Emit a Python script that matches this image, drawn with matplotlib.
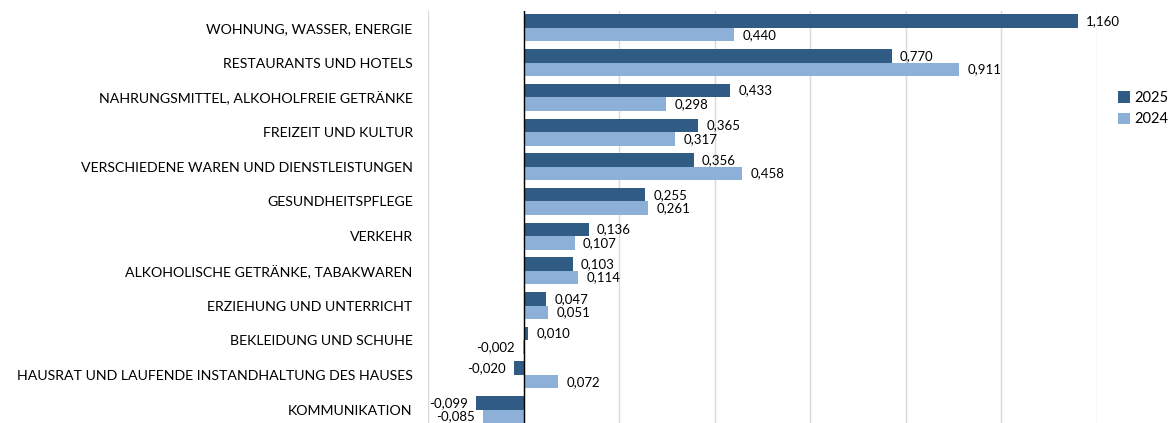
import matplotlib
matplotlib.use('Agg')
import matplotlib.pyplot as plt
import numpy as np

# categories top to bottom
categories = [
    'WOHNUNG, WASSER, ENERGIE',
    'RESTAURANTS UND HOTELS',
    'NAHRUNGSMITTEL, ALKOHOLFREIE GETRÄNKE',
    'FREIZEIT UND KULTUR',
    'VERSCHIEDENE WAREN UND DIENSTLEISTUNGEN',
    'GESUNDHEITSPFLEGE',
    'VERKEHR',
    'ALKOHOLISCHE GETRÄNKE, TABAKWAREN',
    'ERZIEHUNG UND UNTERRICHT',
    'BEKLEIDUNG UND SCHUHE',
    'HAUSRAT UND LAUFENDE INSTANDHALTUNG DES HAUSES',
    'KOMMUNIKATION',
]
values_2025 = [1.160, 0.770, 0.433, 0.365, 0.356, 0.255, 0.136, 0.103, 0.047, 0.010, -0.020, -0.099]
values_2024 = [0.440, 0.911, 0.298, 0.317, 0.458, 0.261, 0.107, 0.114, 0.051, -0.002, 0.072, -0.085]

dark = '#2F5B85'
light = '#8CB0D8'

plt.rcParams['font.family'] = ['Lato', 'DejaVu Sans']

fig = plt.figure(figsize=(11.71, 4.23), dpi=100)
ax = fig.add_axes([0.3655, -0.0095, 0.5713, 0.9845])

y = np.arange(len(categories))
h = 0.39
b1 = ax.barh(y - h / 2, values_2025, height=h, color=dark, label='2025')
b2 = ax.barh(y + h / 2, values_2024, height=h, color=light, label='2024')

def fmt(v):
    return f'{v:.3f}'.replace('.', ',')

for bars, vals in ((b1, values_2025), (b2, values_2024)):
    for bar, v in zip(bars, vals):
        cy = bar.get_y() + bar.get_height() / 2
        if v >= 0:
            ax.annotate(fmt(v), (v, cy), xytext=(6, 0), textcoords='offset points',
                        ha='left', va='center', fontsize=9.5, color='#000000')
        else:
            ax.annotate(fmt(v), (v, cy), xytext=(-6, 0), textcoords='offset points',
                        ha='right', va='center', fontsize=9.5, color='#000000')

ax.set_xlim(-0.2, 1.2)
ax.set_ylim(len(categories) - 0.5, -0.5)
ax.set_xticks(np.arange(-0.2, 1.21, 0.2))
ax.set_xticklabels([])
ax.tick_params(axis='x', length=0)
ax.tick_params(axis='y', length=0, labelsize=10.2, pad=11)
ax.set_yticks(y)
ax.set_yticklabels(categories)
ax.grid(axis='x', color='#D9D9D9', linewidth=1)
ax.set_axisbelow(True)
for s in ax.spines.values():
    s.set_visible(False)
ax.axvline(0, color='black', linewidth=1)

fig.legend(handles=[b1, b2], labels=['2025', '2024'], loc='upper left',
           bbox_to_anchor=(1118 / 1171, 1 - 91 / 423), frameon=False,
           fontsize=10.5, handlelength=0.8, handleheight=0.8, handletextpad=0.3,
           labelspacing=0.5, borderpad=0, borderaxespad=0)

fig.savefig('out.png', dpi=100)
